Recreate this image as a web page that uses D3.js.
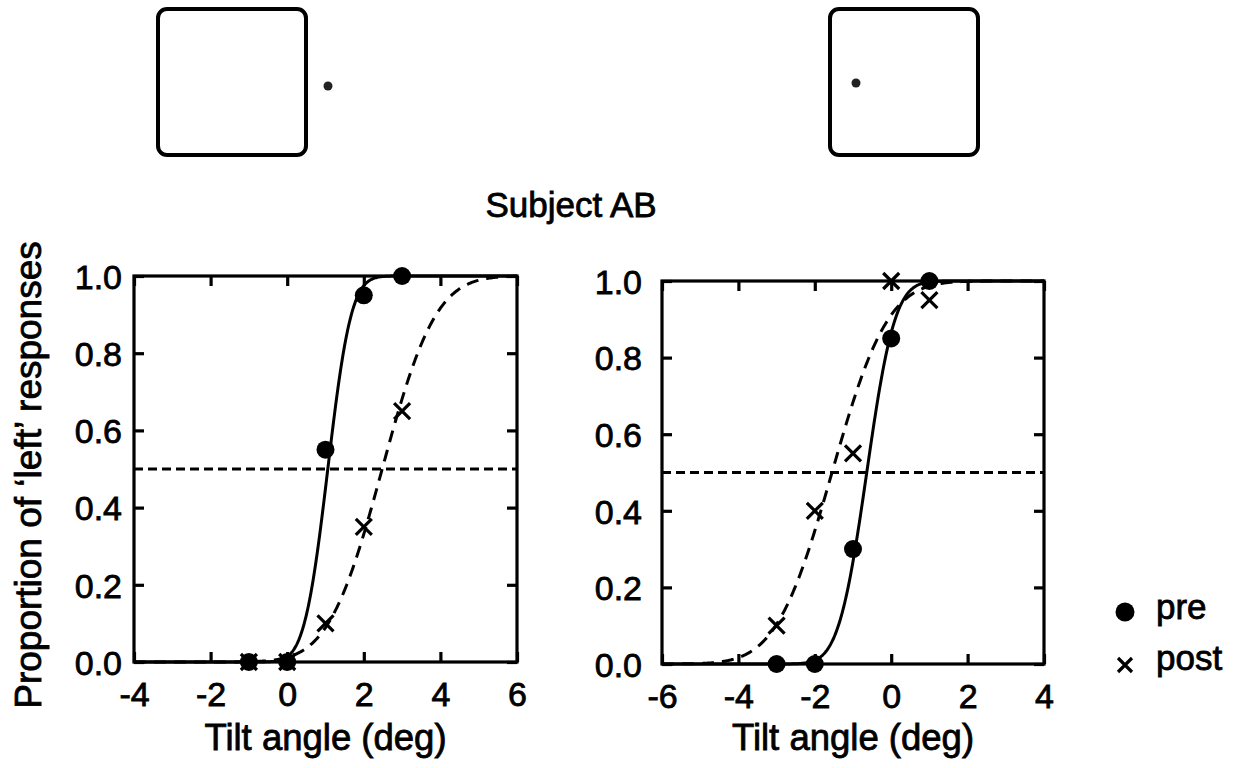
<!DOCTYPE html>
<html>
<head>
<meta charset="utf-8">
<script src="https://cdn.jsdelivr.net/npm/d3@7"></script>
<style>
  body { margin: 0; background: #fff; }
  svg text { font-family: "Liberation Sans", Arial, sans-serif; fill: #000; stroke: #000; stroke-width: 0.8px; }
</style>
</head>
<body>
<div id="chart"></div>
<script>
// tilt angles tested and proportion of 'left' responses
var leftTilt  = [-1, 0, 1, 2, 3];
var leftPre   = [0, 0, 0.55, 0.95, 1.0];
var leftPost  = [0, 0, 0.10, 0.35, 0.65];

var rightTilt = [-3, -2, -1, 0, 1];
var rightPre  = [0, 0, 0.30, 0.85, 1.0];
var rightPost = [0.10, 0.40, 0.55, 1.0, 0.95];

// psychometric fits: [mean, sd] of the cumulative gaussian
var leftPreFit   = [1.06, 0.48];
var leftPostFit  = [2.48, 1.10];
var rightPreFit  = [-0.64, 0.58];
var rightPostFit = [-1.55, 1.15];

var leftXTicks  = [-4, -2, 0, 2, 4, 6];
var rightXTicks = [-6, -4, -2, 0, 2, 4];
var yTicks      = [0, 0.2, 0.4, 0.6, 0.8, 1.0];

var legendLabels = ["pre", "post"];

var W = 1243, H = 768;

var svg = d3.select("#chart").append("svg")
    .attr("width", W).attr("height", H);

function erf(x) {
    var s = x < 0 ? -1 : 1;
    x = Math.abs(x);
    var t = 1 / (1 + 0.3275911 * x);
    var y = 1 - (((((1.061405429 * t - 1.453152027) * t) + 1.421413741) * t - 0.284496736) * t + 0.254829592) * t * Math.exp(-x * x);
    return s * y;
}
function cumGauss(x, fit) {
    return 0.5 * (1 + erf((x - fit[0]) / (fit[1] * Math.SQRT2)));
}

// stimulus schematics at the top: frame with a dot beside it / inside it
function drawStimulus(x0, dotX, dotY) {
    var g = svg.append("g");
    g.append("rect")
        .attr("x", x0).attr("y", 9)
        .attr("width", 148).attr("height", 146)
        .attr("rx", 9).attr("ry", 9)
        .attr("fill", "none").attr("stroke", "#000").attr("stroke-width", 4);
    g.append("circle")
        .attr("cx", dotX).attr("cy", dotY).attr("r", 4.5)
        .attr("fill", "#222");
}
drawStimulus(158, 328, 86);
drawStimulus(830, 856, 83);

function drawCross(g, cx, cy, s) {
    g.append("path")
        .attr("d", "M" + (cx - s) + "," + (cy - s) + "L" + (cx + s) + "," + (cy + s) +
                   "M" + (cx - s) + "," + (cy + s) + "L" + (cx + s) + "," + (cy - s))
        .attr("stroke", "#000").attr("stroke-width", 3.2).attr("fill", "none");
}

function drawPanel(id, box, xDomain, xTicks, tilt, pre, post, preFit, postFit, labelPad) {
    var x = d3.scaleLinear().domain(xDomain).range([box.left, box.right]);
    var y = d3.scaleLinear().domain([0, 1]).range([box.bottom, box.top]);
    var g = svg.append("g");

    g.append("clipPath").attr("id", "clip" + id)
        .append("rect")
        .attr("x", box.left).attr("y", box.top - 2)
        .attr("width", box.right - box.left).attr("height", box.bottom - box.top + 4);

    var plot = g.append("g").attr("clip-path", "url(#clip" + id + ")");

    // 50% criterion line
    plot.append("line")
        .attr("x1", x(xDomain[0])).attr("x2", x(xDomain[1]))
        .attr("y1", y(0.5)).attr("y2", y(0.5))
        .attr("stroke", "#000").attr("stroke-width", 3)
        .attr("stroke-dasharray", "9,5");

    // fitted psychometric functions
    var xs = d3.range(xDomain[0], xDomain[1] + 0.001, 0.02);
    var line = d3.line()
        .x(function (d) { return x(d[0]); })
        .y(function (d) { return y(d[1]); });

    plot.append("path")
        .datum(xs.map(function (v) { return [v, cumGauss(v, postFit)]; }))
        .attr("d", line)
        .attr("fill", "none").attr("stroke", "#000").attr("stroke-width", 3)
        .attr("stroke-dasharray", "12,8");

    plot.append("path")
        .datum(xs.map(function (v) { return [v, cumGauss(v, preFit)]; }))
        .attr("d", line)
        .attr("fill", "none").attr("stroke", "#000").attr("stroke-width", 3);

    // frame
    g.append("rect")
        .attr("x", box.left).attr("y", box.top)
        .attr("width", box.right - box.left).attr("height", box.bottom - box.top)
        .attr("fill", "none").attr("stroke", "#000").attr("stroke-width", 3.2);

    // inward ticks on all four sides
    var axB = g.append("g")
        .attr("transform", "translate(0," + box.bottom + ")")
        .call(d3.axisBottom(x).tickValues(xTicks).tickSizeInner(-10).tickSizeOuter(0)
              .tickPadding(20).tickFormat(function (d) { return String(d); }));
    var axT = g.append("g")
        .attr("transform", "translate(0," + box.top + ")")
        .call(d3.axisTop(x).tickValues(xTicks).tickSizeInner(-10).tickSizeOuter(0).tickFormat(""));
    var axL = g.append("g")
        .attr("transform", "translate(" + box.left + ",0)")
        .call(d3.axisLeft(y).tickValues(yTicks).tickSizeInner(-10).tickSizeOuter(0)
              .tickPadding(labelPad).tickFormat(d3.format(".1f")));
    var axR = g.append("g")
        .attr("transform", "translate(" + box.right + ",0)")
        .call(d3.axisRight(y).tickValues(yTicks).tickSizeInner(-10).tickSizeOuter(0).tickFormat(""));

    [axB, axT, axL, axR].forEach(function (a) {
        a.select(".domain").remove();
        a.selectAll(".tick line").attr("stroke", "#000").attr("stroke-width", 3.2);
        a.selectAll("text").attr("font-size", 34).attr("font-family", null).attr("fill", "#000");
    });
    axB.selectAll("text").attr("dy", "0.71em");
    axL.selectAll("text").attr("dy", "0.36em");

    // data markers
    var pts = g.append("g");
    tilt.forEach(function (t, i) {
        drawCross(pts, x(t), y(post[i]), 8);
    });
    pts.selectAll("circle")
        .data(tilt)
        .enter().append("circle")
        .attr("cx", function (d) { return x(d); })
        .attr("cy", function (d, i) { return y(pre[i]); })
        .attr("r", 9)
        .attr("fill", "#000");

    // x axis title
    g.append("text")
        .attr("x", (box.left + box.right) / 2)
        .attr("y", 750)
        .attr("text-anchor", "middle")
        .attr("font-size", 36.5)
        .text("Tilt angle (deg)");
}

drawPanel("L", {left: 134, right: 517, top: 276, bottom: 662}, [-4, 6], leftXTicks,
          leftTilt, leftPre, leftPost, leftPreFit, leftPostFit, 12);
drawPanel("R", {left: 662, right: 1044, top: 281, bottom: 664}, [-6, 4], rightXTicks,
          rightTilt, rightPre, rightPost, rightPreFit, rightPostFit, 20);

// shared titles
svg.append("text")
    .attr("x", 571).attr("y", 217)
    .attr("text-anchor", "middle")
    .attr("font-size", 35)
    .text("Subject AB");

svg.append("text")
    .attr("transform", "translate(41,475) rotate(-90)")
    .attr("text-anchor", "middle")
    .attr("font-size", 37)
    .text("Proportion of \u2018left\u2019 responses");

// legend
var legend = svg.append("g");
legend.append("circle").attr("cx", 1125).attr("cy", 612).attr("r", 9.5).attr("fill", "#000");
drawCross(legend, 1125, 665, 7);
legend.selectAll("text.lab")
    .data(legendLabels)
    .enter().append("text")
    .attr("class", "lab")
    .attr("x", 1156)
    .attr("y", function (d, i) { return 619 + i * 51; })
    .attr("font-size", 35)
    .text(function (d) { return d; });
</script>
</body>
</html>
